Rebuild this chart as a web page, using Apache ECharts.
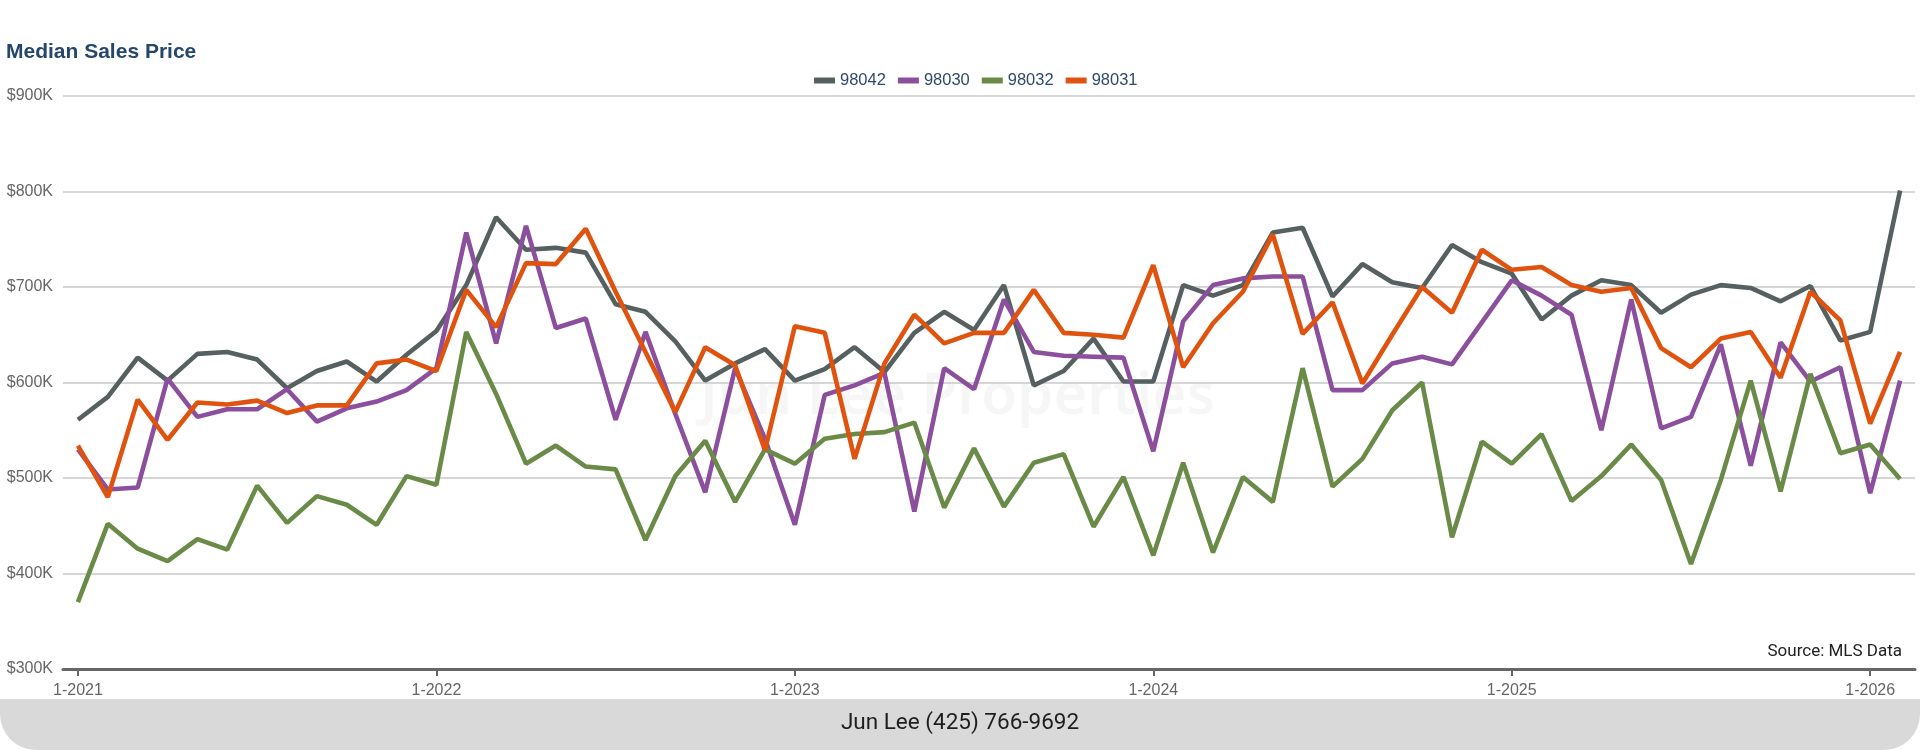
<!DOCTYPE html>
<html>
<head>
<meta charset="utf-8">
<script src="https://cdn.jsdelivr.net/npm/echarts@6/dist/echarts.min.js"></script>
<style>
html,body{margin:0;padding:0;background:#fff;}
#chart{width:1920px;height:750px;}
</style>
</head>
<body>
<div id="chart"></div>
<script>
const categories = [
 "1-2021","2-2021","3-2021","4-2021","5-2021","6-2021","7-2021","8-2021","9-2021","10-2021","11-2021","12-2021",
 "1-2022","2-2022","3-2022","4-2022","5-2022","6-2022","7-2022","8-2022","9-2022","10-2022","11-2022","12-2022",
 "1-2023","2-2023","3-2023","4-2023","5-2023","6-2023","7-2023","8-2023","9-2023","10-2023","11-2023","12-2023",
 "1-2024","2-2024","3-2024","4-2024","5-2024","6-2024","7-2024","8-2024","9-2024","10-2024","11-2024","12-2024",
 "1-2025","2-2025","3-2025","4-2025","5-2025","6-2025","7-2025","8-2025","9-2025","10-2025","11-2025","12-2025",
 "1-2026","2-2026"
];
const seriesNames = ["98042","98030","98032","98031"];
// values in $K
const zip98042 = [561,585,626,602,630,632,624,594,612,622,601,629,
  654,702,773,739,741,736,682,674,643,602,620,635,
  602,614,637,611,652,674,655,702,597,612,646,601,
  601,702,691,702,757,762,690,724,705,699,744,726,
  714,666,691,707,702,673,692,702,699,685,701,644,
  653,801];
const zip98030 = [530,488,490,604,564,572,572,593,559,573,580,592,
  615,757,641,764,657,667,561,653,567,485,615,541,
  451,587,597,610,465,615,593,687,632,628,627,626,
  528,664,702,709,711,711,592,592,620,627,619,663,
  707,691,671,550,687,552,564,640,513,642,601,616,
  484,602];
const zip98032 = [370,452,426,413,436,425,492,453,481,472,451,502,
  493,653,588,515,534,512,509,435,502,539,475,530,
  515,541,546,548,558,469,531,470,516,525,449,501,
  419,516,422,501,475,615,491,520,571,600,438,538,
  515,546,476,502,535,498,410,498,602,486,609,526,
  535,499];
const zip98031 = [534,480,582,540,579,577,581,568,576,576,620,624,
  612,697,658,725,724,761,695,632,569,637,618,529,
  659,652,520,620,671,641,652,652,697,652,650,647,
  723,616,662,695,755,651,684,599,650,700,673,739,
  718,721,702,695,699,636,616,646,653,605,695,665,
  557,632];
const colors = ["#566061","#8c4f9e","#6a8b47","#df530f"];
const yTicks = {min:300, max:900, interval:100};

const chart = echarts.init(document.getElementById('chart'), null, {renderer:'canvas'});
const dataSets = [zip98042, zip98030, zip98032, zip98031];
const showJan = (i) => i % 12 === 0;

chart.setOption({
  animation: false,
  backgroundColor: '#ffffff',
  textStyle: {fontFamily: 'Liberation Sans, Arial, sans-serif'},
  title: {
    text: 'Median Sales Price',
    left: 6, top: 42, padding: 0,
    textStyle: {fontSize: 21, fontWeight: 'bold', color: '#24476b', fontFamily: 'Liberation Sans, Arial, sans-serif'}
  },
  legend: {
    data: seriesNames,
    left: 814, top: 72, padding: 0,
    icon: 'rect',
    itemWidth: 21, itemHeight: 6, itemGap: 12,
    textStyle: {fontSize: 16.5, color: '#2e4a6b', fontFamily: 'Liberation Sans, Arial, sans-serif'}
  },
  grid: {left: 63, right: 5, top: 96, bottom: 81, containLabel: false},
  xAxis: {
    type: 'category',
    data: categories,
    boundaryGap: true,
    axisLine: {lineStyle: {color: '#666666', width: 3}},
    axisTick: {show: true, alignWithLabel: true, interval: showJan, length: 7, lineStyle: {color: '#666666', width: 2}},
    axisLabel: {interval: showJan, color: '#666666', fontSize: 16, margin: 14},
    splitLine: {show: false}
  },
  yAxis: {
    type: 'value',
    min: yTicks.min, max: yTicks.max, interval: yTicks.interval,
    axisLine: {show: false},
    axisTick: {show: false},
    axisLabel: {color: '#666666', fontSize: 16, margin: 10, formatter: v => '$' + v + 'K'},
    splitLine: {lineStyle: {color: '#c8c8c8', width: 1.5}}
  },
  graphic: [
    {type: 'text', z: -10, left: 700, top: 368, style: {text: 'Jun Lee Properties', font: '600 58px "Noto Sans", sans-serif', fill: 'rgba(0,0,0,0.035)'}},
    {type: 'rect', z: 0, shape: {x: 0, y: 699, width: 1920, height: 51, r: [0,0,36,36]}, style: {fill: '#d9d9d9'}},
    {type: 'text', z: 1, x: 960, y: 723, style: {text: 'Jun Lee (425) 766-9692', font: '22.5px Roboto, sans-serif', fill: '#1e1e1e', textAlign: 'center', textVerticalAlign: 'middle'}},
    {type: 'text', z: 1, x: 1902, y: 652, style: {text: 'Source: MLS Data', font: '17px Roboto, sans-serif', fill: '#222222', textAlign: 'right', textVerticalAlign: 'middle'}}
  ],
  series: seriesNames.map((n, i) => ({
    name: n,
    type: 'line',
    data: dataSets[i],
    symbol: 'none',
    smooth: false,
    z: 3,
    itemStyle: {color: colors[i]},
    lineStyle: {color: colors[i], width: 4.6}
  }))
});
</script>
</body>
</html>
